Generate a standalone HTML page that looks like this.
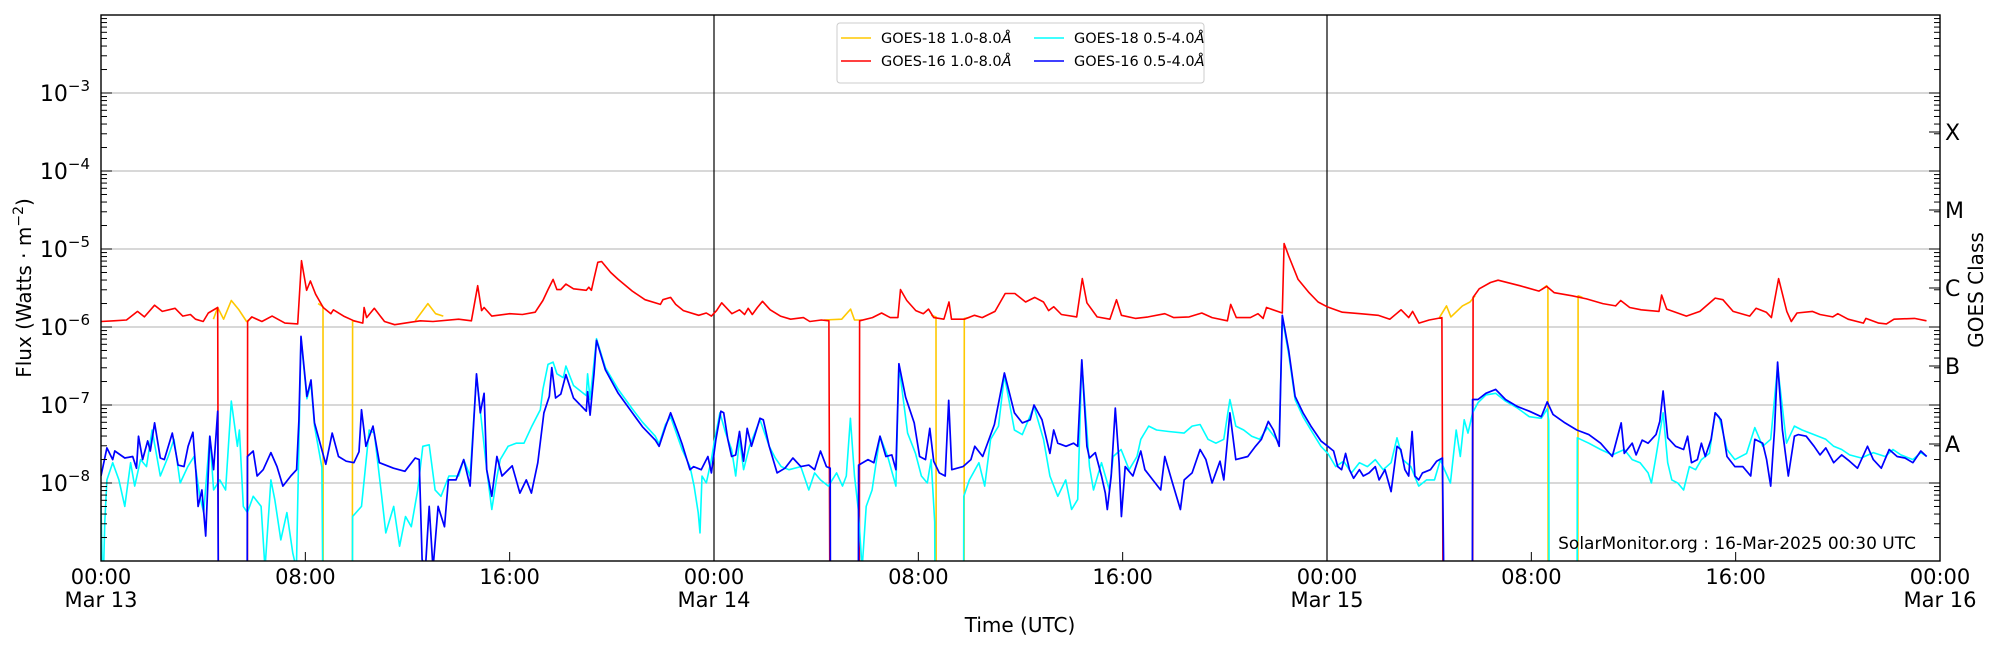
<!DOCTYPE html>
<html><head><meta charset="utf-8"><style>
html,body{margin:0;padding:0;background:#fff}
svg{display:block;font-family:"DejaVu Sans","Liberation Sans",sans-serif}
</style></head><body>
<svg id="chart" width="2000" height="650" viewBox="0 0 2000 650" xmlns="http://www.w3.org/2000/svg">
<defs><clipPath id="plotclip"><rect x="101" y="15" width="1839" height="546"/></clipPath></defs>
<rect x="0" y="0" width="2000" height="650" fill="#fff"/>
<g id="grid"></g>
<g id="series" clip-path="url(#plotclip)"></g>
<g id="axes"></g>
<text x="1916" y="549" font-size="17" text-anchor="end" fill="#000">SolarMonitor.org : 16-Mar-2025 00:30 UTC</text>
<g>
<rect x="837" y="23" width="367" height="60" rx="3" fill="#fff" fill-opacity="0.85" stroke="#ccc" stroke-width="1"/>
<line x1="841" y1="38" x2="871" y2="38" stroke="#ffc800" stroke-width="1.5"/>
<text x="881" y="43" font-size="14.5">GOES-18 1.0-8.0<tspan font-style="italic">Å</tspan></text>
<line x1="841" y1="61" x2="871" y2="61" stroke="#ff0000" stroke-width="1.5"/>
<text x="881" y="66" font-size="14.5">GOES-16 1.0-8.0<tspan font-style="italic">Å</tspan></text>
<line x1="1034" y1="38" x2="1064" y2="38" stroke="#00ffff" stroke-width="1.5"/>
<text x="1074" y="43" font-size="14.5">GOES-18 0.5-4.0<tspan font-style="italic">Å</tspan></text>
<line x1="1034" y1="61" x2="1064" y2="61" stroke="#0000ff" stroke-width="1.5"/>
<text x="1074" y="66" font-size="14.5">GOES-16 0.5-4.0<tspan font-style="italic">Å</tspan></text>
</g>
<text x="1020" y="632" font-size="20" text-anchor="middle">Time (UTC)</text>
<text transform="translate(31,288) rotate(-90)" font-size="20" text-anchor="middle">Flux (Watts · m<tspan font-size="14" dy="-8">−2</tspan><tspan dy="8">)</tspan></text>
<text transform="translate(1983,290) rotate(-90)" font-size="20" text-anchor="middle">GOES Class</text>
</svg>
<script>
// ---- data (hours since Mar 13 00:00 UTC, log10 flux W/m^2; -10 = dropout, NaN = break) ----
const yTickExps = [-8,-7,-6,-5,-4,-3];
const classLabels = ["A","B","C","M","X"];
const classExps = [-7.5,-6.5,-5.5,-4.5,-3.5];
const xTickHours = [0,8,16,24,32,40,48,56,64,72];
const xTickTimes = ["00:00","08:00","16:00","00:00","08:00","16:00","00:00","08:00","16:00","00:00"];
const xTickDates = ["Mar 13","","","Mar 14","","","Mar 15","","","Mar 16"];
const dayLineHours = [24,48];

const g16LongT = [0,0.5,1.0,1.43,1.7,2.1,2.4,2.9,3.2,3.5,3.7,4.0,4.2,4.57,4.6,5.73,5.74,5.9,6.3,6.7,7.2,7.7,7.85,8.05,8.2,8.4,8.7,9.0,9.1,9.5,9.9,10.25,10.3,10.4,10.7,11.1,11.5,12.1,12.5,13.0,14.0,14.5,14.75,14.9,15.0,15.3,16.0,16.5,17.0,17.3,17.5,17.7,17.85,18.0,18.2,18.5,19.0,19.1,19.2,19.3,19.45,19.6,19.95,20.25,20.8,21.3,21.9,22.0,22.3,22.5,22.8,23.4,23.7,23.9,24.1,24.3,24.7,25.0,25.2,25.34,25.5,25.7,25.9,26.2,26.6,27.0,27.5,27.75,28.2,28.5,28.54,29.69,29.7,30.2,30.56,30.9,31.2,31.3,31.55,31.9,32.2,32.4,32.6,33.0,33.2,33.3,33.8,34.2,34.5,35.0,35.4,35.78,36.2,36.56,36.9,37.1,37.3,37.6,38.2,38.42,38.6,39.0,39.5,39.76,39.95,40.5,41.0,41.65,42.0,42.6,43.1,43.5,44.1,44.23,44.45,45.0,45.3,45.5,45.63,46.25,46.32,46.5,46.87,47.3,47.65,48.0,48.6,49.3,50.0,50.46,50.9,51.2,51.35,51.6,52.0,52.5,52.55,53.7,53.72,53.96,54.4,54.7,55.55,56.3,56.6,56.9,57.6,58.16,58.8,59.3,59.5,59.85,60.3,61.0,61.1,61.3,62.07,62.6,63.2,63.5,63.9,64.55,64.8,65.2,65.4,65.68,66.0,66.18,66.4,67.0,67.3,67.8,68.0,68.4,69.0,69.1,69.6,69.9,70.2,71.0,71.47];
const g16LongV = [-5.93,-5.92,-5.91,-5.80,-5.87,-5.72,-5.80,-5.76,-5.86,-5.84,-5.90,-5.93,-5.82,-5.75,-10,-10,-5.93,-5.87,-5.93,-5.86,-5.95,-5.96,-5.15,-5.53,-5.41,-5.58,-5.75,-5.83,-5.78,-5.86,-5.92,-5.95,-5.75,-5.88,-5.76,-5.93,-5.97,-5.94,-5.92,-5.93,-5.90,-5.92,-5.47,-5.79,-5.75,-5.86,-5.83,-5.84,-5.81,-5.66,-5.52,-5.39,-5.52,-5.52,-5.45,-5.51,-5.53,-5.49,-5.53,-5.38,-5.17,-5.16,-5.30,-5.39,-5.54,-5.65,-5.71,-5.65,-5.62,-5.71,-5.79,-5.85,-5.82,-5.86,-5.79,-5.69,-5.83,-5.78,-5.84,-5.76,-5.84,-5.75,-5.67,-5.78,-5.86,-5.90,-5.88,-5.93,-5.91,-5.92,-10,-10,-5.92,-5.88,-5.82,-5.88,-5.88,-5.52,-5.66,-5.79,-5.83,-5.77,-5.88,-5.90,-5.68,-5.90,-5.90,-5.85,-5.88,-5.80,-5.57,-5.57,-5.68,-5.62,-5.68,-5.79,-5.74,-5.84,-5.87,-5.38,-5.69,-5.87,-5.90,-5.65,-5.85,-5.89,-5.87,-5.83,-5.88,-5.87,-5.82,-5.88,-5.92,-5.71,-5.88,-5.88,-5.83,-5.89,-5.75,-5.82,-4.93,-5.09,-5.39,-5.56,-5.68,-5.74,-5.81,-5.83,-5.85,-5.90,-5.78,-5.88,-5.80,-5.95,-5.91,-5.88,-10,-10,-5.62,-5.51,-5.43,-5.40,-5.47,-5.54,-5.48,-5.56,-5.60,-5.64,-5.70,-5.73,-5.66,-5.75,-5.78,-5.80,-5.59,-5.77,-5.86,-5.80,-5.63,-5.65,-5.80,-5.86,-5.76,-5.81,-5.88,-5.38,-5.80,-5.93,-5.82,-5.80,-5.84,-5.87,-5.83,-5.90,-5.95,-5.89,-5.95,-5.96,-5.90,-5.89,-5.92];

// GOES-18 long channel: only the segments where it is visible beside GOES-16
const g18LongT = [4.4,4.57,4.8,5.1,5.4,5.7,5.9,NaN,8.5,8.69,8.7,9.84,9.85,10.0,NaN,12.3,12.8,13.1,13.4,NaN,28.3,29.0,29.35,29.5,29.8,NaN,32.5,32.69,32.7,33.79,33.8,34.0,NaN,52.4,52.68,52.85,53.3,53.6,53.8,NaN,56.4,56.6,56.65,56.66,57.82,57.83,58.0];
const g18LongV = [-5.90,-5.75,-5.90,-5.66,-5.78,-5.93,-5.88,NaN,-5.70,-5.74,-10,-10,-5.92,-5.93,NaN,-5.92,-5.70,-5.83,-5.86,NaN,-5.91,-5.90,-5.77,-5.91,-5.91,NaN,-5.85,-5.87,-10,-10,-5.89,-5.88,NaN,-5.88,-5.73,-5.87,-5.73,-5.68,-5.60,NaN,-5.52,-5.47,-5.50,-10,-10,-5.60,-5.62];

const g16ShortT = [0,0.23,0.46,0.54,0.93,1.24,1.39,1.47,1.63,1.83,1.93,2.1,2.32,2.48,2.79,3.02,3.25,3.41,3.6,3.72,3.8,3.95,4.1,4.26,4.41,4.57,4.6,5.72,5.73,5.96,6.11,6.35,6.65,6.89,7.12,7.43,7.66,7.75,7.83,8.06,8.22,8.36,8.8,9.05,9.3,9.6,9.9,10.1,10.2,10.37,10.65,10.9,11.45,11.9,12.3,12.46,12.57,12.7,12.85,13.0,13.2,13.45,13.6,13.9,14.2,14.45,14.7,14.85,15.0,15.1,15.3,15.5,15.7,16.1,16.4,16.65,16.85,17.1,17.34,17.55,17.65,17.8,18.0,18.2,18.5,19.0,19.05,19.15,19.3,19.4,19.75,20.25,20.8,21.2,21.7,21.85,22.1,22.3,22.6,22.75,23.06,23.2,23.5,23.76,23.9,24.07,24.27,24.38,24.54,24.69,24.85,25.0,25.16,25.3,25.47,25.8,25.93,26.16,26.47,26.78,27.09,27.4,27.71,27.94,28.17,28.4,28.55,28.56,29.65,29.66,30.03,30.26,30.5,30.73,30.96,31.12,31.24,31.5,31.84,32.05,32.28,32.45,32.6,32.82,33.05,33.19,33.31,33.75,34.06,34.21,34.52,34.98,35.37,35.76,36.07,36.38,36.53,36.84,37.15,37.3,37.46,37.78,38.08,38.24,38.4,38.6,38.7,38.93,39.17,39.32,39.4,39.55,39.71,39.86,39.95,40.1,40.4,40.71,40.87,41.18,41.49,41.65,41.95,42.26,42.41,42.72,43.03,43.26,43.5,43.81,43.96,44.2,44.43,44.9,45.2,45.43,45.7,45.9,46.13,46.25,46.5,46.75,47.06,47.37,47.76,48.03,48.26,48.42,48.57,48.73,48.88,49.04,49.27,49.42,49.65,49.89,50.04,50.27,50.51,50.74,50.89,51.05,51.2,51.33,51.44,51.59,51.74,52.05,52.29,52.52,52.6,53.69,53.7,53.91,54.22,54.6,54.99,55.46,55.92,56.39,56.62,56.85,57.32,57.78,58.25,58.71,59.17,59.52,59.64,59.95,60.1,60.34,60.57,60.88,61.03,61.16,61.34,61.65,61.96,62.12,62.27,62.5,62.66,62.81,63.04,63.2,63.43,63.66,63.97,64.28,64.59,64.75,65.06,65.21,65.37,65.52,65.64,65.83,66.06,66.3,66.45,66.76,67.07,67.3,67.53,67.84,68.15,68.46,68.77,69.16,69.39,69.7,70.01,70.32,70.63,70.94,71.25,71.48];
const g16ShortV = [-7.91,-7.55,-7.70,-7.59,-7.68,-7.66,-7.81,-7.40,-7.70,-7.46,-7.59,-7.23,-7.68,-7.70,-7.36,-7.77,-7.79,-7.53,-7.35,-7.87,-8.30,-8.09,-8.68,-7.40,-7.83,-7.08,-10,-10,-7.66,-7.59,-7.91,-7.83,-7.61,-7.79,-8.04,-7.91,-7.83,-7.2,-6.12,-6.89,-6.68,-7.23,-7.76,-7.36,-7.66,-7.72,-7.74,-7.6,-7.06,-7.53,-7.27,-7.74,-7.81,-7.85,-7.68,-7.70,-8.98,-9.1,-8.30,-9.1,-8.30,-8.56,-7.96,-7.96,-7.70,-8.04,-6.60,-7.10,-6.85,-7.83,-8.17,-7.66,-7.91,-7.78,-8.13,-7.96,-8.13,-7.74,-7.10,-6.89,-6.52,-6.91,-6.86,-6.61,-6.91,-7.08,-6.83,-7.13,-6.60,-6.17,-6.55,-6.85,-7.10,-7.28,-7.45,-7.53,-7.28,-7.10,-7.36,-7.50,-7.83,-7.79,-7.83,-7.66,-7.87,-7.45,-7.08,-7.10,-7.44,-7.66,-7.64,-7.34,-7.72,-7.30,-7.53,-7.17,-7.19,-7.53,-7.87,-7.81,-7.68,-7.79,-7.77,-7.83,-7.59,-7.79,-7.81,-10,-10,-7.77,-7.70,-7.74,-7.40,-7.66,-7.64,-7.83,-6.47,-6.90,-7.23,-7.66,-7.70,-7.30,-7.72,-7.87,-7.91,-6.94,-7.83,-7.79,-7.70,-7.53,-7.66,-7.25,-6.59,-7.10,-7.23,-7.19,-7.0,-7.19,-7.62,-7.32,-7.49,-7.53,-7.49,-7.53,-6.42,-7.53,-7.68,-7.61,-7.91,-8.13,-8.34,-7.91,-7.04,-7.74,-8.43,-7.79,-7.91,-7.59,-7.83,-7.96,-8.09,-7.66,-8.0,-8.34,-7.96,-7.87,-7.57,-7.70,-8.0,-7.72,-7.96,-7.10,-7.70,-7.66,-7.53,-7.44,-7.21,-7.32,-7.53,-5.85,-6.3,-6.89,-7.10,-7.27,-7.46,-7.53,-7.59,-7.79,-7.83,-7.62,-7.83,-7.94,-7.83,-7.91,-7.87,-7.79,-7.96,-7.83,-8.11,-7.53,-7.57,-7.83,-7.91,-7.34,-7.91,-7.96,-7.87,-7.83,-7.72,-7.68,-10,-10,-6.93,-6.93,-6.85,-6.80,-6.93,-7.02,-7.08,-7.15,-6.96,-7.12,-7.23,-7.32,-7.38,-7.49,-7.66,-7.23,-7.62,-7.49,-7.64,-7.45,-7.49,-7.38,-7.21,-6.82,-7.42,-7.53,-7.57,-7.40,-7.74,-7.70,-7.49,-7.66,-7.44,-7.10,-7.19,-7.66,-7.79,-7.79,-7.91,-7.44,-7.49,-7.70,-8.04,-7.32,-6.45,-7.32,-7.91,-7.40,-7.38,-7.40,-7.53,-7.64,-7.55,-7.74,-7.64,-7.72,-7.81,-7.53,-7.70,-7.81,-7.57,-7.66,-7.68,-7.74,-7.59,-7.66];

const g18ShortT = [0,0.05,0.1,0.15,0.23,0.46,0.7,0.93,1.16,1.32,1.55,1.78,2.0,2.32,2.63,2.86,3.1,3.4,3.64,3.87,4.02,4.26,4.41,4.65,4.88,5.1,5.34,5.42,5.57,5.73,5.96,6.27,6.42,6.65,6.81,7.04,7.28,7.51,7.65,7.75,7.83,8.06,8.22,8.36,8.65,8.7,9.84,9.85,10.2,10.5,10.7,10.99,11.15,11.46,11.69,11.92,12.15,12.4,12.6,12.85,13.08,13.31,13.62,14.0,14.2,14.45,14.7,15.1,15.3,15.48,15.63,15.94,16.25,16.56,16.87,17.2,17.3,17.5,17.7,17.85,18.1,18.2,18.5,19.0,19.05,19.15,19.4,19.75,20.25,20.8,21.2,21.7,21.85,22.1,22.3,22.75,23.06,23.22,23.38,23.45,23.53,23.7,23.9,24.0,24.23,24.46,24.69,24.85,25.0,25.16,25.39,25.8,26.16,26.4,26.63,26.94,27.4,27.71,27.94,28.17,28.48,28.8,29.03,29.18,29.34,29.5,29.65,29.8,29.96,30.19,30.5,30.8,31.12,31.24,31.58,31.89,32.12,32.35,32.5,32.64,32.66,33.77,33.78,34.0,34.37,34.6,34.83,35.14,35.37,35.76,36.07,36.53,36.9,37.15,37.46,37.77,38.0,38.24,38.4,38.7,38.86,39.17,39.48,39.63,39.94,40.25,40.56,40.71,41.02,41.33,41.8,42.4,42.72,43.03,43.34,43.65,43.96,44.2,44.43,44.74,45.05,45.36,45.67,46.13,46.25,46.5,46.75,47.06,47.37,47.76,48.03,48.34,48.65,48.96,49.27,49.58,49.89,50.2,50.51,50.74,50.97,51.28,51.59,51.9,52.21,52.44,52.6,52.83,53.06,53.22,53.37,53.52,53.7,53.91,54.22,54.6,54.99,55.46,55.92,56.39,56.62,56.68,56.7,57.79,57.8,58.25,58.71,59.17,59.64,59.95,60.26,60.57,60.7,60.88,61.16,61.34,61.5,61.73,61.96,62.19,62.43,62.66,62.97,63.2,63.35,63.66,63.97,64.43,64.75,65.06,65.37,65.64,65.99,66.3,66.6,66.92,67.53,67.84,68.15,68.46,68.92,69.39,69.85,70.16,70.47,70.94,71.25,71.48];
const g18ShortV = [-8.3,-9.1,-9.1,-8.5,-7.96,-7.74,-7.96,-8.30,-7.74,-8.04,-7.70,-7.79,-7.32,-7.91,-7.66,-7.44,-8.0,-7.79,-7.66,-8.17,-8.38,-7.40,-8.09,-7.96,-8.09,-6.95,-7.53,-7.32,-8.30,-8.38,-8.17,-8.30,-9.1,-7.96,-8.22,-8.73,-8.38,-8.90,-9.1,-7.5,-6.14,-6.92,-6.72,-7.27,-7.8,-10,-10,-8.43,-8.30,-7.32,-7.36,-8.17,-8.64,-8.30,-8.81,-8.43,-8.56,-8.09,-7.53,-7.51,-8.09,-8.17,-7.91,-7.91,-7.70,-7.91,-6.62,-7.83,-8.34,-7.96,-7.70,-7.53,-7.49,-7.49,-7.27,-7.06,-6.80,-6.48,-6.45,-6.6,-6.65,-6.50,-6.75,-6.88,-6.6,-6.93,-6.15,-6.52,-6.80,-7.05,-7.22,-7.40,-7.50,-7.25,-7.15,-7.57,-7.79,-8.04,-8.38,-8.64,-7.91,-8.0,-7.70,-7.49,-7.10,-7.36,-7.57,-7.91,-7.44,-7.83,-7.53,-7.19,-7.53,-7.68,-7.79,-7.83,-7.79,-8.09,-7.87,-7.96,-8.04,-7.87,-8.04,-7.91,-7.17,-7.91,-8.34,-9.1,-8.30,-8.09,-7.40,-7.66,-8.04,-6.49,-7.36,-7.62,-7.91,-8.0,-7.7,-8.5,-10,-10,-8.17,-7.96,-7.74,-8.04,-7.44,-7.27,-6.62,-7.32,-7.38,-7.02,-7.44,-7.91,-8.17,-7.96,-8.34,-8.21,-6.45,-7.79,-8.09,-7.74,-8.09,-7.66,-7.57,-7.83,-7.66,-7.44,-7.27,-7.32,-7.34,-7.36,-7.27,-7.25,-7.44,-7.49,-7.44,-6.93,-7.27,-7.32,-7.40,-7.44,-7.29,-7.49,-5.88,-6.35,-6.93,-7.15,-7.32,-7.53,-7.62,-7.79,-7.72,-7.87,-7.74,-7.79,-7.70,-7.83,-7.74,-7.42,-7.70,-7.79,-8.04,-7.96,-7.96,-7.70,-7.83,-8.0,-7.32,-7.66,-7.19,-7.36,-7.10,-6.97,-6.87,-6.85,-6.95,-7.04,-7.15,-7.17,-7.05,-7.2,-10,-10,-7.42,-7.49,-7.57,-7.64,-7.57,-7.70,-7.74,-7.87,-8.0,-7.66,-7.10,-7.74,-7.96,-8.0,-8.09,-7.79,-7.83,-7.70,-7.62,-7.10,-7.15,-7.57,-7.70,-7.62,-7.29,-7.53,-7.44,-6.50,-7.49,-7.27,-7.32,-7.36,-7.44,-7.53,-7.57,-7.64,-7.68,-7.61,-7.66,-7.57,-7.64,-7.70,-7.61,-7.66];

// ---- layout ----
const NS = "http://www.w3.org/2000/svg";
const X0 = 101, X1 = 1940, YT = 15, YB = 561;
const H0 = 0, H1 = 72, L0 = -9, L1 = -2;
function xs(h){ return X0 + (h - H0) / (H1 - H0) * (X1 - X0); }
function ys(l){ return YB - (l - L0) / (L1 - L0) * (YB - YT); }
function mk(tag, attrs, parent){
  const e = document.createElementNS(NS, tag);
  for (const k in attrs) e.setAttribute(k, attrs[k]);
  parent.appendChild(e);
  return e;
}
const grid = document.getElementById('grid');
const axes = document.getElementById('axes');
const series = document.getElementById('series');

yTickExps.forEach(function(e){
  const g = mk('line', {x1:X0, x2:X1, y1:ys(e), y2:ys(e), stroke:'#b0b0b0', 'stroke-width':1}, grid);
  
  
});
dayLineHours.forEach(function(h){
  const l = mk('line', {x1:xs(h), x2:xs(h), y1:YT, y2:YB, stroke:'#000', 'stroke-width':1.2}, grid);
  
  
});

function drawSeries(T, V, color, w, name){
  let d = '';
  let pen = false;
  for (let i = 0; i < T.length; i++){
    if (isNaN(T[i]) || isNaN(V[i])) { pen = false; continue; }
    d += (pen ? 'L' : 'M') + xs(T[i]).toFixed(1) + ',' + ys(V[i]).toFixed(1);
    pen = true;
  }
  const p = mk('path', {d:d, fill:'none', stroke:color, 'stroke-width':w, 'stroke-linejoin':'round'}, series);
  
  
}
drawSeries(g18LongT, g18LongV, '#ffc800', 1.6, 'series-goes18-long');
drawSeries(g16LongT, g16LongV, '#ff0000', 1.6, 'series-goes16-long');
drawSeries(g18ShortT, g18ShortV, '#00ffff', 1.6, 'series-goes18-short');
drawSeries(g16ShortT, g16ShortV, '#0000ff', 1.7, 'series-goes16-short');

// frame
const fr = mk('rect', {x:X0, y:YT, width:X1-X0, height:YB-YT, fill:'none', stroke:'#000', 'stroke-width':1.4}, axes);



// y ticks (left & right)
for (let e = L0; e < L1; e++){
  for (let m = 1; m <= 9; m++){
    const l = e + Math.log10(m);
    const len = m === 1 ? 11 : 6;
    const y = ys(l);
    const a = mk('line', {x1:X0, x2:X0+len, y1:y, y2:y, stroke:'#000', 'stroke-width':1}, axes);
    
    
    const b = mk('line', {x1:X1, x2:X1-len, y1:y, y2:y, stroke:'#000', 'stroke-width':1}, axes);
    
    
  }
}
yTickExps.forEach(function(e){
  const t = mk('text', {x:90, y:ys(e)+8, 'font-size':22, 'text-anchor':'end'}, axes);
  
  
  const a = document.createElementNS(NS, 'tspan'); a.textContent = '10'; t.appendChild(a);
  const b = document.createElementNS(NS, 'tspan');
  b.setAttribute('font-size', '15'); b.setAttribute('dy', '-10');
  b.textContent = '\u2212' + Math.abs(e); t.appendChild(b);
});
classLabels.forEach(function(c, i){
  const y = ys(classExps[i]);
  const tk = mk('line', {x1:X1, x2:X1-11, y1:y, y2:y, stroke:'#000', 'stroke-width':1}, axes);
  
  
  const t = mk('text', {x:1945, y:y+8, 'font-size':22}, axes);
  
  
  t.textContent = c;
});
// x ticks
xTickHours.forEach(function(h, i){
  const x = xs(h);
  const tk = mk('line', {x1:x, x2:x, y1:YB, y2:YB-9, stroke:'#000', 'stroke-width':1}, axes);
  
  
  const t = mk('text', {x:x, y:584, 'font-size':21, 'text-anchor':'middle'}, axes);
  
  
  t.textContent = xTickTimes[i];
  if (xTickDates[i]){
    const d = mk('text', {x:x, y:607, 'font-size':21, 'text-anchor':'middle'}, axes);
    
    
    d.textContent = xTickDates[i];
  }
});
</script>
</body></html>
